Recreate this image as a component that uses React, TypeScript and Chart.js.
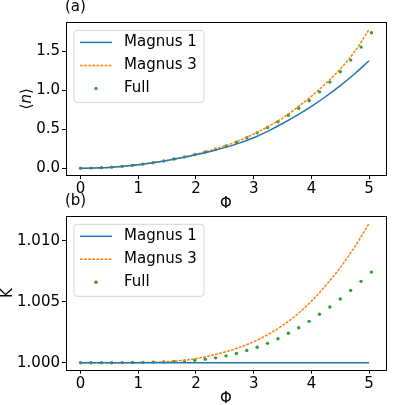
import React, { useEffect, useRef } from 'react';
import { Chart, registerables } from 'chart.js';
Chart.register(...registerables);

const FONT = "'DejaVu Sans', 'Noto Sans', sans-serif";

// ---- data ----
const phiLine = [0, 0.25, 0.5, 0.75, 1, 1.25, 1.5, 1.75, 2, 2.25, 2.5, 2.75, 3, 3.25, 3.5, 3.75, 4, 4.25, 4.5, 4.75, 5];
const nMagnus1 = [0, 0.003, 0.011, 0.025, 0.045, 0.07, 0.1, 0.134, 0.173, 0.216, 0.265, 0.323, 0.392, 0.478, 0.575, 0.68, 0.795, 0.922, 1.062, 1.215, 1.382];
const nMagnus3 = [0, 0.003, 0.011, 0.025, 0.045, 0.071, 0.101, 0.138, 0.181, 0.23, 0.287, 0.355, 0.44, 0.535, 0.645, 0.778, 0.925, 1.09, 1.275, 1.5, 1.785];
const phiFull = [0, 0.18, 0.36, 0.54, 0.72, 0.9, 1.08, 1.26, 1.44, 1.62, 1.8, 1.98, 2.16, 2.34, 2.52, 2.7, 2.88, 3.06, 3.24, 3.42, 3.6, 3.78, 3.96, 4.14, 4.32, 4.5, 4.68, 4.86, 5.04];
const nFull = [0, 0.002, 0.007, 0.014, 0.024, 0.037, 0.053, 0.072, 0.094, 0.119, 0.146, 0.176, 0.208, 0.245, 0.287, 0.334, 0.392, 0.456, 0.523, 0.597, 0.681, 0.772, 0.87, 0.982, 1.107, 1.24, 1.39, 1.557, 1.741];
const kMagnus1 = [1, 1, 1, 1, 1, 1, 1, 1, 1, 1, 1, 1, 1, 1, 1, 1, 1, 1, 1, 1, 1];
const kMagnus3 = [1, 1, 1, 1.000002, 1.000008, 1.00003, 1.00008, 1.00018, 1.00034, 1.00058, 1.00088, 1.00125, 1.00172, 1.00232, 1.00305, 1.00395, 1.00505, 1.00635, 1.0078, 1.0095, 1.01143];
const kFull = [1, 1, 1, 1, 1.00001, 1.00002, 1.00003, 1.00005, 1.00007, 1.0001, 1.00014, 1.0002, 1.00028, 1.0004, 1.00056, 1.00076, 1.001, 1.00127, 1.00159, 1.00197, 1.00241, 1.00287, 1.00339, 1.00397, 1.00457, 1.00522, 1.00593, 1.00667, 1.00743];

const xTicks = [0, 1, 2, 3, 4, 5];
const nTicks = [0, 0.5, 1.0, 1.5];
const kTicks = [1.0, 1.005, 1.01];
const seriesLabels = ['Magnus 1', 'Magnus 3', 'Full'];
const colors = ['#1f77b4', '#ff7f0e', '#2ca02c'];

const FS = 15;

function pts(xs: number[], ys: number[]) {
  return xs.map((x, i) => ({ x, y: ys[i] }));
}

function range(arrs: number[][]) {
  const all = arrs.flat();
  const mn = Math.min(...all);
  const mx = Math.max(...all);
  const d = mx - mn;
  return [mn - 0.05 * d, mx + 0.05 * d];
}

const mplPlugin = {
  id: 'mplDecor',
  afterDatasetsDraw(chart: any) {
    const { ctx, chartArea: a } = chart;
    // legend
    const bx = a.left + 8, by = a.top + 8, bw = 130, bh = 72, r = 3;
    ctx.save();
    ctx.beginPath();
    ctx.moveTo(bx + r, by);
    ctx.lineTo(bx + bw - r, by);
    ctx.arcTo(bx + bw, by, bx + bw, by + r, r);
    ctx.lineTo(bx + bw, by + bh - r);
    ctx.arcTo(bx + bw, by + bh, bx + bw - r, by + bh, r);
    ctx.lineTo(bx + r, by + bh);
    ctx.arcTo(bx, by + bh, bx, by + bh - r, r);
    ctx.lineTo(bx, by + r);
    ctx.arcTo(bx, by, bx + r, by, r);
    ctx.closePath();
    ctx.fillStyle = 'rgba(255,255,255,0.8)';
    ctx.fill();
    ctx.strokeStyle = 'rgba(204,204,204,0.8)';
    ctx.lineWidth = 1;
    ctx.stroke();
    chart.data.datasets.forEach((ds: any, i: number) => {
      const y = a.top + 20 + i * 23;
      if (ds.showLine === false) {
        ctx.fillStyle = ds.pointBackgroundColor;
        ctx.beginPath();
        ctx.arc(bx + 22, y, ds.pointRadius, 0, Math.PI * 2);
        ctx.fill();
      } else {
        ctx.strokeStyle = ds.borderColor;
        ctx.lineWidth = ds.borderWidth;
        ctx.setLineDash(ds.borderDash || []);
        ctx.beginPath();
        ctx.moveTo(bx + 6, y);
        ctx.lineTo(bx + 38, y);
        ctx.stroke();
        ctx.setLineDash([]);
      }
      ctx.fillStyle = '#000';
      ctx.font = `${FS}px ${FONT}`;
      ctx.textAlign = 'left';
      ctx.textBaseline = 'middle';
      ctx.fillText(ds.label, bx + 50, y);
    });
    ctx.restore();
  },
  afterDraw(chart: any) {
    const { ctx, chartArea: a } = chart;
    const o = chart.options.plugins.mplDecor;
    ctx.save();
    // frame
    ctx.strokeStyle = '#000';
    ctx.lineWidth = 1;
    ctx.strokeRect(Math.round(a.left) + 0.5, Math.round(a.top) + 0.5, Math.round(a.right) - Math.round(a.left), Math.round(a.bottom) - Math.round(a.top));
    ctx.fillStyle = '#000';
    ctx.font = `${FS}px ${FONT}`;
    ctx.textBaseline = 'alphabetic';
    // panel label
    ctx.textAlign = 'left';
    ctx.fillText(o.panel, a.left - 1, a.top - 11);
    // x title
    ctx.textAlign = 'center';
    ctx.fillText('Φ', (a.left + a.right) / 2, a.bottom + 33);
    // y title rotated
    ctx.translate(o.yTitleX, (a.top + a.bottom) / 2);
    ctx.rotate(-Math.PI / 2);
    ctx.textAlign = 'left';
    const parts: [string, string][] = o.yTitle;
    let total = 0;
    const widths = parts.map(([t, st]) => {
      ctx.font = `${st} ${FS}px ${FONT}`;
      const w = ctx.measureText(t).width;
      total += w;
      return w;
    });
    let x = -total / 2;
    parts.forEach(([t, st], i) => {
      ctx.font = `${st} ${FS}px ${FONT}`;
      ctx.fillText(t, x, 0);
      x += widths[i];
    });
    ctx.restore();
  },
};

type PanelProps = {
  top: number;
  height: number;
  padTop: number;
  xAxisH: number;
  panel: string;
  yTitle: [string, string][];
  yTitleX: number;
  ys: number[][];
  yTicks: number[];
  decimals: number;
};

function Panel(p: PanelProps) {
  const ref = useRef<HTMLCanvasElement>(null);
  useEffect(() => {
    const [m1, m3, full] = p.ys;
    const [ymin, ymax] = range(p.ys);
    const [xmin, xmax] = range([phiLine, phiFull]);
    const tickStyle = {
      grid: { display: true, drawOnChartArea: false, drawTicks: true, tickLength: 4, tickColor: '#000', tickWidth: 1 },
      border: { display: false },
    };
    const chart = new Chart(ref.current as HTMLCanvasElement, {
      type: 'line',
      data: {
        datasets: [
          { label: seriesLabels[0], data: pts(phiLine, m1), borderColor: colors[0], borderWidth: 1.5, pointRadius: 0, cubicInterpolationMode: 'monotone', fill: false },
          { label: seriesLabels[1], data: pts(phiLine, m3), borderColor: colors[1], borderWidth: 1.5, borderDash: [2.8, 1.3], pointRadius: 0, cubicInterpolationMode: 'monotone', fill: false },
          { label: seriesLabels[2], data: pts(phiFull, full), showLine: false, pointRadius: 1.7, pointBackgroundColor: colors[2], pointBorderWidth: 0, borderColor: colors[2] },
        ] as any,
      },
      options: {
        responsive: false,
        animation: false,
        devicePixelRatio: 1,
        events: [],
        layout: { padding: { top: p.padTop, right: 29, left: 0, bottom: 0 } },
        plugins: {
          legend: { display: false },
          tooltip: { enabled: false },
          title: { display: false },
          mplDecor: { panel: p.panel, yTitle: p.yTitle, yTitleX: p.yTitleX },
        } as any,
        scales: {
          x: {
            type: 'linear',
            min: xmin,
            max: xmax,
            afterBuildTicks: (s: any) => { s.ticks = xTicks.map((v) => ({ value: v })); },
            afterFit: (s: any) => { s.height = p.xAxisH; },
            ticks: { color: '#000', font: { family: FONT, size: FS }, padding: 1, maxRotation: 0, callback: (v: any) => String(v) },
            ...tickStyle,
          },
          y: {
            type: 'linear',
            min: ymin,
            max: ymax,
            afterBuildTicks: (s: any) => { s.ticks = p.yTicks.map((v) => ({ value: v })); },
            afterFit: (s: any) => { s.width = 66; },
            ticks: { color: '#000', font: { family: FONT, size: FS }, padding: 2, callback: (v: any) => Number(v).toFixed(p.decimals) },
            ...tickStyle,
          },
        } as any,
      },
      plugins: [mplPlugin],
    });
    return () => chart.destroy();
  }, []);
  return (
    <canvas
      ref={ref}
      width={415}
      height={p.height}
      style={{ position: 'absolute', left: 0, top: p.top, width: 415, height: p.height }}
    />
  );
}

export default function App() {
  return (
    <div style={{ position: 'fixed', left: 0, top: 0, width: 415, height: 405, background: '#fff', overflow: 'hidden' }}>
      <Panel
        top={0}
        height={215}
        padTop={22.4}
        xAxisH={215 - 175.2}
        panel="(a)"
        yTitle={[['⟨', 'normal'], ['n', 'italic'], ['⟩', 'normal']]}
        yTitleX={31}
        ys={[nMagnus1, nMagnus3, nFull]}
        yTicks={nTicks}
        decimals={1}
      />
      <Panel
        top={190}
        height={215}
        padTop={26.3}
        xAxisH={215 - 179.7}
        panel="(b)"
        yTitle={[['K', 'normal']]}
        yTitleX={11.7}
        ys={[kMagnus1, kMagnus3, kFull]}
        yTicks={kTicks}
        decimals={3}
      />
    </div>
  );
}
